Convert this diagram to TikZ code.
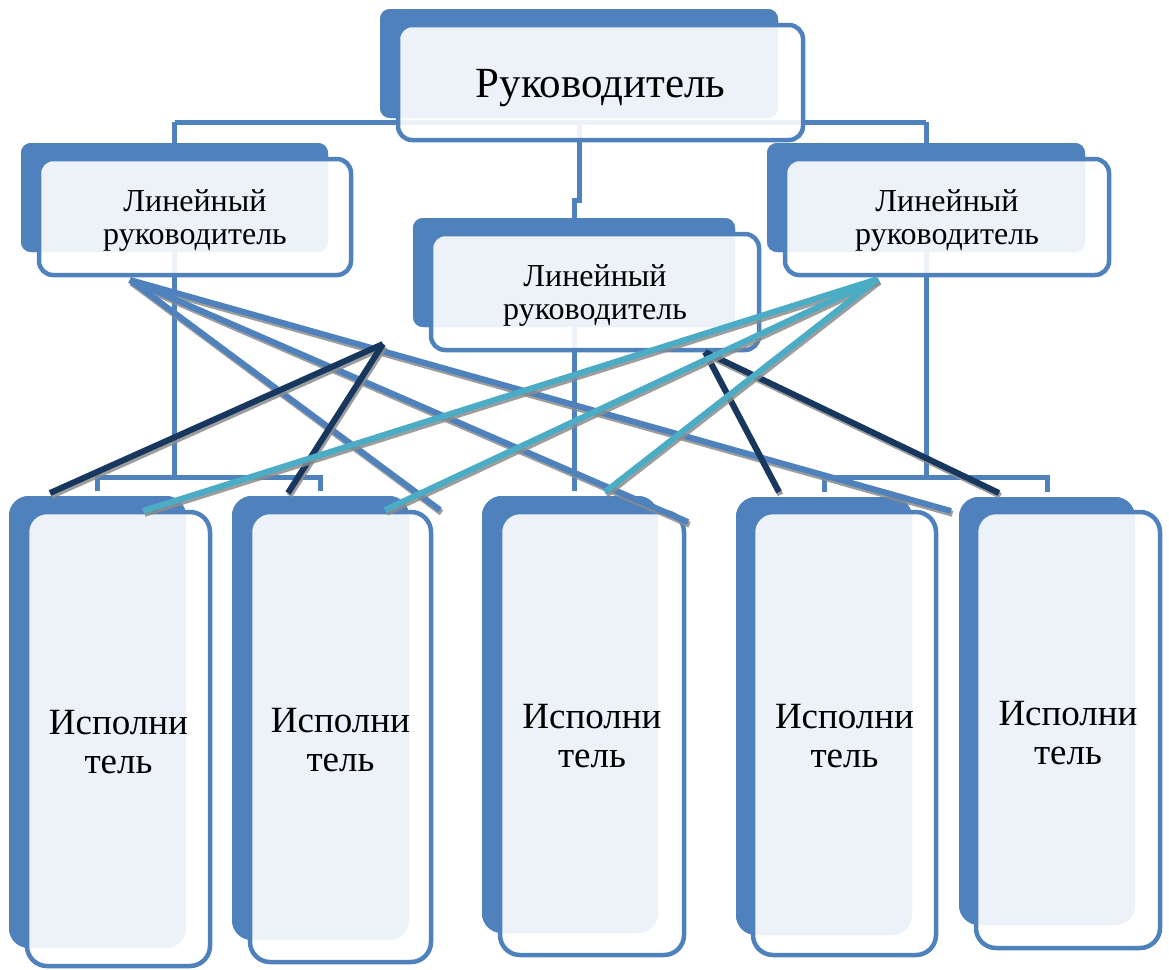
\documentclass[tikz,border=0pt]{standalone}
\usepackage{fontspec}
\setmainfont{Liberation Serif}
\definecolor{accent}{HTML}{4F81BD}
\definecolor{linknavy}{HTML}{17375E}
\definecolor{linkteal}{HTML}{4BACC6}
\definecolor{linkshade}{HTML}{8C8C8C}

\tikzset{
  backbox/.style={fill=accent, draw=none, rounded corners=#1, inner sep=0pt, outer sep=0pt},
  frontbox/.style={fill=white, fill opacity=0.9, text opacity=1, draw=accent, line width=4.5pt,
                   rounded corners=#1, inner sep=0pt, outer sep=0pt, align=center, text=black},
  tree/.style={draw=accent, line width=5pt},
  topfont/.style={font=\fontsize{43}{46}\selectfont},
  midfont/.style={font=\fontsize{32}{33}\selectfont},
  lowfont/.style={font=\fontsize{37}{39}\selectfont},
  linkshadow/.style={draw=linkshade, line width=6pt, opacity=0.85},
}

% invisible strut that sets the height of a label's first line
\newcommand\capstrut[1]{\rule{0pt}{#1}}

% one cross link: grey shadow first, then the coloured line
\newcommand\crosslink[3]{%
  \draw[linkshadow] ([shift={(1.5pt,-2.8pt)}]#2) -- ([shift={(1.5pt,-2.8pt)}]#3);
  \draw[line width=6pt,#1] (#2) -- (#3);}

\begin{document}
\begin{tikzpicture}[x=1pt,y=-1pt]
\useasboundingbox (0,0) rectangle (1169,969);

% ---- hierarchy line helpers
\coordinate (busTop) at (0,122);
\coordinate (busLow) at (0,477);
\coordinate (jogA) at (579,200);
\coordinate (jogB) at (574,200);
\coordinate (midEnd) at (574,491);

% ---- back plates
\node[backbox=10pt, minimum width=398, minimum height=109] (T-back) at (579,63.5) {};
\node[backbox=10pt, minimum width=307, minimum height=109] (L-back) at (174.5,197.5) {};
\node[backbox=10pt, minimum width=322, minimum height=109] (M-back) at (574,272.5) {};
\node[backbox=10pt, minimum width=318, minimum height=109] (R-back) at (926,197.5) {};
\node[backbox=20pt, minimum width=177, minimum height=452] (E1-back) at (97.5,722) {};
\node[backbox=20pt, minimum width=177, minimum height=444] (E2-back) at (320.5,718) {};
\node[backbox=20pt, minimum width=176, minimum height=437] (E3-back) at (570,714.5) {};
\node[backbox=20pt, minimum width=176, minimum height=438] (E4-back) at (824,716) {};
\node[backbox=20pt, minimum width=176, minimum height=428] (E5-back) at (1047,711) {};

% tree connectors, drawn before the front panels so they show faintly through them
\draw[tree] (L-back.center |- busTop) -- (R-back.center |- busTop);
\draw[tree] (L-back.north |- busTop) -- (L-back.north);
\draw[tree] (R-back.north |- busTop) -- (R-back.north);
\draw[tree] (L-back.south) -- (L-back.south |- busLow);
\draw[tree] (R-back.south) -- (R-back.south |- busLow);
\draw[tree] (T-back.center |- busTop) -- (jogA) -- (jogB) -- (midEnd);
\draw[tree] ([yshift=5pt]E1-back.north) |- (E2-back.north |- busLow) -- ([yshift=5pt]E2-back.north);
\draw[tree] ([yshift=5pt]E4-back.north) |- (E5-back.north |- busLow) -- ([yshift=5pt]E5-back.north);

% back plates again, over the connectors
\fill[accent, rounded corners=10pt] (T-back.north west) rectangle (T-back.south east);
\fill[accent, rounded corners=10pt] (L-back.north west) rectangle (L-back.south east);
\fill[accent, rounded corners=10pt] (M-back.north west) rectangle (M-back.south east);
\fill[accent, rounded corners=10pt] (R-back.north west) rectangle (R-back.south east);
\fill[accent, rounded corners=20pt] (E1-back.north west) rectangle (E1-back.south east);
\fill[accent, rounded corners=20pt] (E2-back.north west) rectangle (E2-back.south east);
\fill[accent, rounded corners=20pt] (E3-back.north west) rectangle (E3-back.south east);
\fill[accent, rounded corners=20pt] (E4-back.north west) rectangle (E4-back.south east);
\fill[accent, rounded corners=20pt] (E5-back.north west) rectangle (E5-back.south east);

% ---- front panels with the labels
\node[frontbox=14pt, topfont, minimum width=405, minimum height=115] (T) at (600.5,82.5) {\capstrut{40pt}Руководитель};
\node[frontbox=14pt, midfont, minimum width=312, minimum height=116] (L) at (195,217) {\capstrut{29pt}Линейный\\руководитель};
\node[frontbox=14pt, midfont, minimum width=328, minimum height=116] (M) at (595,292) {\capstrut{29pt}Линейный\\руководитель};
\node[frontbox=14pt, midfont, minimum width=324, minimum height=116] (R) at (947,217) {\capstrut{29pt}Линейный\\руководитель};
\node[frontbox=20pt, lowfont, minimum width=183, minimum height=454] (E1) at (118.5,739) {\capstrut{30pt}Исполни\\тель};
\node[frontbox=20pt, lowfont, minimum width=181, minimum height=450] (E2) at (340.5,737) {\capstrut{30pt}Исполни\\тель};
\node[frontbox=20pt, lowfont, minimum width=184, minimum height=443] (E3) at (592,733.5) {\capstrut{30pt}Исполни\\тель};
\node[frontbox=20pt, lowfont, minimum width=183, minimum height=443] (E4) at (844.5,733.5) {\capstrut{30pt}Исполни\\тель};
\node[frontbox=20pt, lowfont, minimum width=184, minimum height=436] (E5) at (1068,730) {\capstrut{30pt}Исполни\\тель};

% ---- cross links between levels
\coordinate (pL) at (130,280);
\coordinate (pM) at (383,344);
\coordinate (pN) at (705,352);
\coordinate (pR) at (878,279);
\coordinate (e1) at (440,510);
\coordinate (e2) at (688,522);
\coordinate (e3) at (951,511);
\coordinate (n1) at (50,493);
\coordinate (n2) at (288,493);
\coordinate (n3) at (779,492);
\coordinate (n4) at (999,493);
\coordinate (t1) at (143,511);
\coordinate (t2) at (385,510);
\coordinate (t3) at (605,492);

\crosslink{accent}{pL}{e3}
\crosslink{accent}{pL}{e2}
\crosslink{accent}{pL}{e1}
\crosslink{linknavy}{pM}{n1}
\crosslink{linknavy}{pM}{n2}
\crosslink{linknavy}{pN}{n3}
\crosslink{linknavy}{pN}{n4}
\crosslink{linkteal}{pR}{t1}
\crosslink{linkteal}{pR}{t2}
\crosslink{linkteal}{pR}{t3}
\end{tikzpicture}
\end{document}
